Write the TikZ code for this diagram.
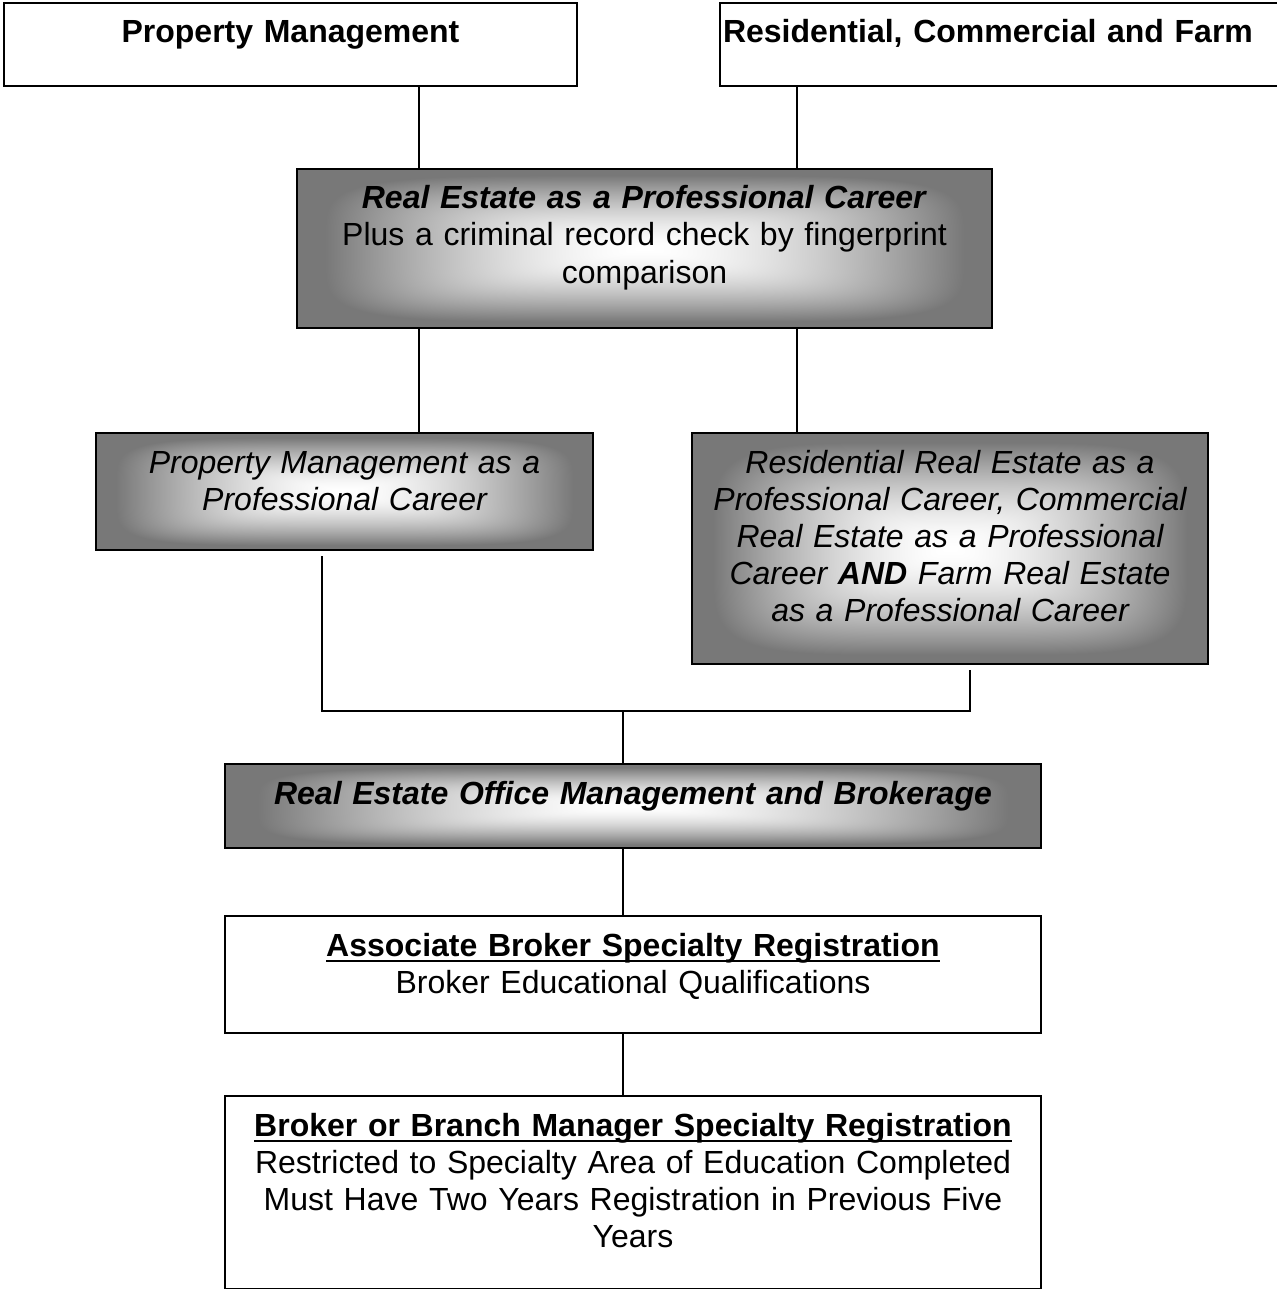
\documentclass[tikz,border=0pt]{standalone}
\usepackage{fontspec}
\setmainfont{Liberation Sans}
\usetikzlibrary{positioning}
\pgfdeclarefunctionalshading{boxglow}{\pgfpoint{-50bp}{-50bp}}{\pgfpoint{50bp}{50bp}}{}{
  abs 5 exp exch abs 5 exp add 0.2 exp
  25 div 0.92 div dup 1 gt {pop 1} if
  1.6 exp 0.53 mul 1 exch sub dup dup
}
\newcommand{\ulbf}[1]{\setbox0=\hbox{\bfseries #1}\rlap{\rule[-3.2pt]{\wd0}{1.3pt}}\box0}
\tikzstyle{box} = [rectangle, draw=black, line width=1pt, anchor=north,
    inner sep=0pt, align=center, text height=20pt,
    font=\fontsize{16}{18.5}\selectfont]
\tikzstyle{plainbox} = [box, fill=white]
\tikzstyle{glowbox} = [box, shade, shading=boxglow]
\tikzstyle{link} = [draw, line width=1pt]

\begin{document}
\begin{tikzpicture}[x=0.5pt, y=-0.5pt]
  \useasboundingbox (0,0) rectangle (1276,1289);
  % Place nodes
  \node [plainbox, text width=286.5pt, text depth=21.5pt] (pm) at (290.5,2)
  {\bfseries Property Management};
  \node [plainbox, text width=285pt, text depth=21.5pt, align=left] (rcf) at (1005,2)
  {\hspace*{1.5pt}\bfseries Residential, Commercial and Farm};
  \node [glowbox, text width=347.5pt, text depth=59.5pt] (career) at (644.5,168)
  {\textbf{\textit{Real Estate as a Professional Career}}\\
   Plus a criminal record check by fingerprint\\ comparison};
  \node [glowbox, text width=248.5pt, text depth=38.5pt] (pmcareer) at (344.5,432)
  {\itshape Property Management as a\\ Professional Career};
  \node [glowbox, text width=258pt, text depth=95.5pt] (rescareer) at (950,432)
  {\itshape Residential Real Estate as a\\ Professional Career, Commercial\\
   Real Estate as a Professional\\ Career \textbf{AND} Farm Real Estate\\
   as a Professional Career};
  \node [glowbox, text width=408pt, text depth=22pt] (office) at (633,763)
  {\bfseries\itshape Real Estate Office Management and Brokerage};
  \node [plainbox, text width=408pt, text depth=38.5pt] (assoc) at (633,915)
  {\ulbf{Associate Broker Specialty Registration}\\
   Broker Educational Qualifications};
  \node [plainbox, text width=408pt, text depth=76.5pt] (branch) at (633,1095)
  {\ulbf{Broker or Branch Manager Specialty Registration}\\
   Restricted to Specialty Area of Education Completed\\
   Must Have Two Years Registration in Previous Five\\ Years};
  % Columns of the connectors
  \coordinate (colA) at (419,0);
  \coordinate (colB) at (797,0);
  \coordinate (colC) at (322,0);
  \coordinate (colD) at (970,0);
  \coordinate (join) at (623,711);
  % Draw edges
  \draw [link] (pm.south -| colA) -- (career.north -| colA);
  \draw [link] (rcf.south -| colB) -- (career.north -| colB);
  \draw [link] (career.south -| colA) -- (pmcareer.north -| colA);
  \draw [link] (career.south -| colB) -- (rescareer.north -| colB);
  \draw [link, shorten <=2.5pt, shorten >=2.5pt]
    (pmcareer.south -| colC) |- (join) -| (rescareer.south -| colD);
  \draw [link] (join) -- (office.north -| join);
  \draw [link] (office.south -| join) -- (assoc.north -| join);
  \draw [link] (assoc.south -| join) -- (branch.north -| join);
\end{tikzpicture}
\end{document}
